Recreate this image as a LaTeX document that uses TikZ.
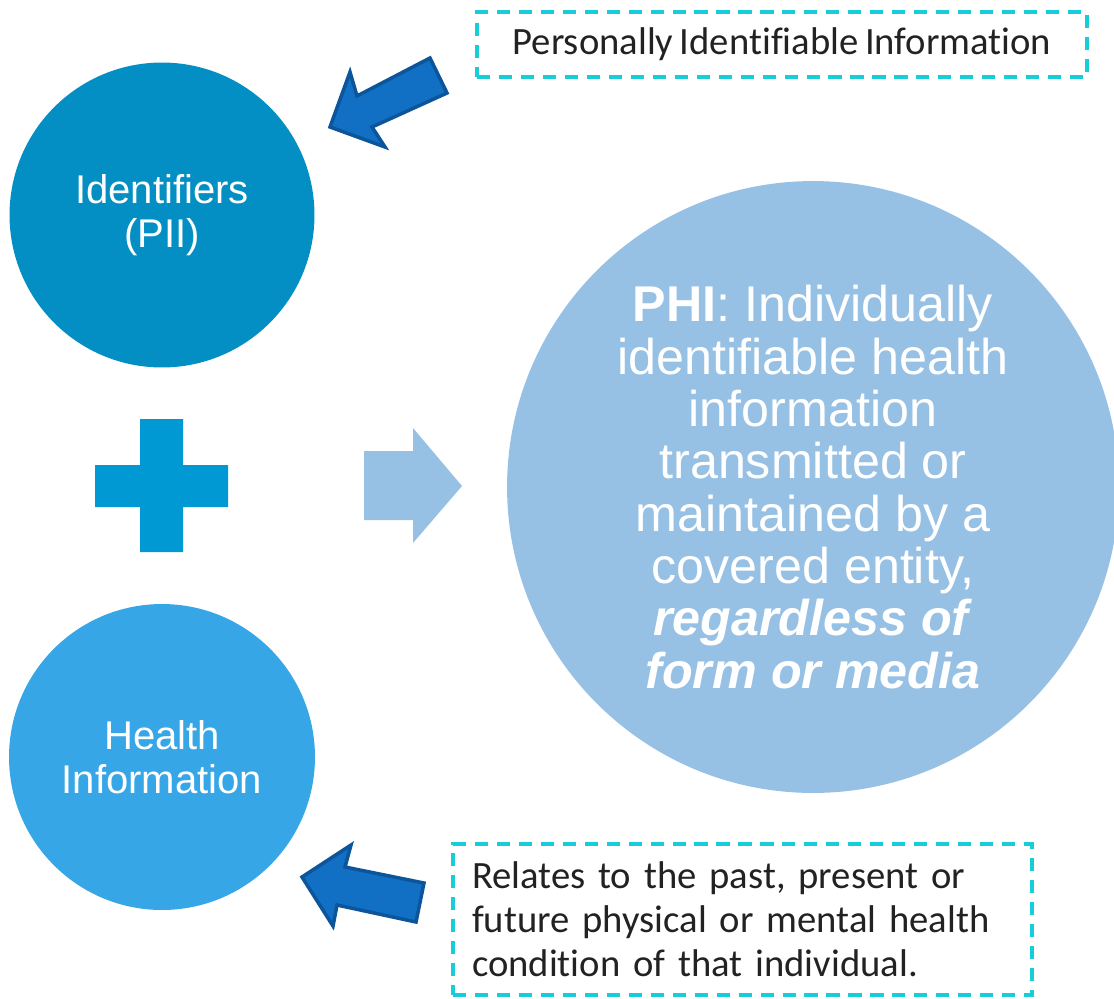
\documentclass[tikz,border=0pt]{standalone}
\usepackage{fontspec}
\setmainfont{Liberation Sans}
\newfontfamily\notefont[WordSpace=0.75,Ligatures=NoCommon]{Carlito}
\usepackage{xcolor}
\definecolor{piiblue}{HTML}{038FC4}
\definecolor{plusblue}{HTML}{0099D3}
\definecolor{healthblue}{HTML}{37A6E7}
\definecolor{phiblue}{HTML}{97C1E4}
\definecolor{arrowblue}{HTML}{1270C4}
\definecolor{arrowedge}{HTML}{0D559B}
\definecolor{notecyan}{HTML}{18CDD9}
\definecolor{notegray}{HTML}{222222}

\begin{document}
\begin{tikzpicture}[x=0.02cm,y=-0.02cm,
		bubble/.style={circle,inner sep=0pt,text=white,align=center},
		note/.style={draw=notecyan,dash pattern=on 7.5pt off 5pt,line width=2.2pt,
			text=notegray,font=\notefont\fontsize{22}{25}\selectfont},
		pointer/.style={fill=arrowblue,draw=arrowedge,line width=2pt,line join=miter}]
		\clip (0,0) rectangle (1114,998);
		% the three circles
		\node[bubble,fill=piiblue,minimum size=6.1cm,font=\fontsize{22.8}{25}\selectfont] (pii) at (162,215) {Identifiers\\(PII)};
		\node[bubble,fill=healthblue,minimum size=6.12cm,font=\fontsize{22.8}{25}\selectfont] (health) at (162,757) {Health\\Information};
		\node[bubble,fill=phiblue,minimum size=12.24cm,font=\fontsize{28.6}{29.8}\selectfont] (phi) at (813,487)
			{\textbf{PHI}: Individually\\identifiable health\\information\\transmitted or\\maintained by a\\covered entity,\\\textbf{\textit{regardless of}}\\\textbf{\textit{form or media}}};
		% plus and the arrow into PHI
		\fill[plusblue] (95,465) rectangle (228,507) (140,419) rectangle (183,552);
		\fill[phiblue] (364,451) -- (413,451) -- (413,428) -- (462,486) -- (413,543) -- (413,520) -- (364,520) -- cycle;
		% notes
		\node[note,minimum width=12.2cm,minimum height=1.3cm,inner sep=0pt] (piinote) at (782,44.5) {Personally Identifiable Information};
		\node[note,minimum width=11.58cm,minimum height=3.02cm,text width=10.82cm,inner xsep=0.38cm,align=left] (healthnote) at (742.5,919.5)
			{Relates to the past, present or\\future physical or mental health\\condition of that individual.};
		% pointers from the notes
		\draw[pointer] (330,127) -- (350,72) -- (357,96) -- (430,58) -- (447,93) -- (372,127) -- (385,147) -- cycle;
		\draw[pointer] (302,877) -- (351,845) -- (345,867) -- (424,883) -- (416,922) -- (337,905) -- (333,926) -- cycle;
\end{tikzpicture}
\end{document}
